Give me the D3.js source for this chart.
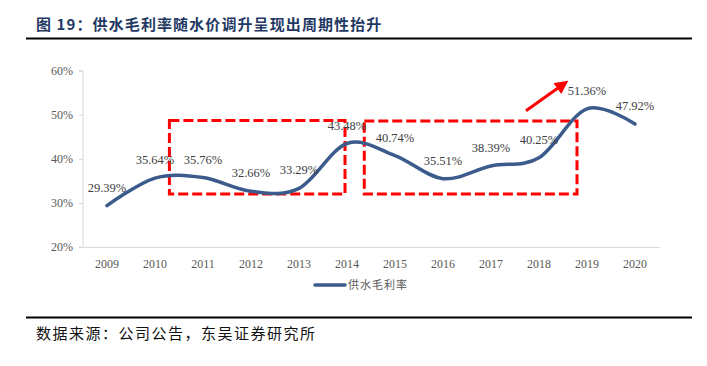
<!DOCTYPE html>
<html>
<head>
<meta charset="utf-8">
<script src="https://cdn.jsdelivr.net/npm/d3@7"></script>
<style>
  body { margin: 0; background: #fff; }
  svg { display: block; }
</style>
</head>
<body>
<script>
const years = ["2009","2010","2011","2012","2013","2014","2015","2016","2017","2018","2019","2020"];
const margin = [29.39, 35.64, 35.76, 32.66, 33.29, 43.48, 40.74, 35.51, 38.39, 40.25, 51.36, 47.92];
const yTicks = [20, 30, 40, 50, 60];
const seriesName = "供水毛利率";

const w = 707, h = 366;
const plotL = 83, plotR = 659, plotT = 70.7, plotB = 247;
const lineColor = "#3b5b8c";

const svg = d3.select("body").append("svg")
    .attr("width", w)
    .attr("height", h);

// title + rules
svg.append("text")
    .attr("x", 36).attr("y", 30)
    .attr("fill", "#1f3864")
    .style("font-family", "'Noto Sans CJK SC'")
    .style("font-weight", "bold")
    .style("font-size", "15px")
    .style("letter-spacing", "1.1px")
    .text("图 19：供水毛利率随水价调升呈现出周期性抬升");

svg.append("line")
    .attr("x1", 26).attr("x2", 692).attr("y1", 38.5).attr("y2", 38.5)
    .attr("stroke", "#000").attr("stroke-width", 2);

svg.append("line")
    .attr("x1", 26).attr("x2", 692).attr("y1", 317.5).attr("y2", 317.5)
    .attr("stroke", "#000").attr("stroke-width", 2);

svg.append("text")
    .attr("x", 36).attr("y", 339)
    .attr("fill", "#111")
    .style("font-family", "'Noto Sans CJK SC'")
    .style("font-size", "15px")
    .style("letter-spacing", "1.5px")
    .text("数据来源：公司公告，东吴证券研究所");

const xScale = d3.scaleBand()
    .domain(years)
    .range([plotL, plotR]);

const yScale = d3.scaleLinear()
    .domain([20, 60])
    .range([plotB, plotT]);

const xc = d => xScale(d) + xScale.bandwidth() / 2;

// y axis
const yAxis = d3.axisLeft(yScale)
    .tickValues(yTicks)
    .tickSize(4)
    .tickPadding(6)
    .tickFormat(d => d + "%");

const gy = svg.append("g")
    .attr("transform", "translate(" + plotL + ",0)")
    .call(yAxis);
gy.select(".domain").attr("stroke", "#d9d9d9").attr("d", "M-4," + plotT + "H0V" + plotB + "H-4");
gy.selectAll(".tick line").attr("stroke", "#d9d9d9");
gy.selectAll(".tick text")
    .attr("fill", "#595959")
    .style("font-family", "'Liberation Serif'")
    .style("font-size", "12px");

// x axis
const xAxis = d3.axisBottom(xScale).tickSize(0).tickPadding(12);
const gx = svg.append("g")
    .attr("transform", "translate(0," + plotB + ")")
    .call(xAxis);
gx.select(".domain").attr("stroke", "#d9d9d9");
gx.selectAll(".tick text")
    .attr("fill", "#595959")
    .style("font-family", "'Liberation Serif'")
    .style("font-size", "12px");

// red dashed boxes
const step = xScale.step();
const boxes = [
    { x0: xc("2010") + 0.3 * step, x1: xc("2014") - 2, y0: 48.7, y1: 32 },
    { x0: xc("2014") + 0.36 * step, x1: xc("2019") - 10, y0: 48.6, y1: 32 }
];
svg.selectAll(".box")
    .data(boxes)
    .enter()
    .append("rect")
    .attr("class", "box")
    .attr("x", d => d.x0)
    .attr("y", d => yScale(d.y0))
    .attr("width", d => d.x1 - d.x0)
    .attr("height", d => yScale(d.y1) - yScale(d.y0))
    .attr("fill", "none")
    .attr("stroke", "#ff0000")
    .attr("stroke-width", 3)
    .attr("stroke-dasharray", "10,4");

// line
const line = d3.line()
    .x((d, i) => xc(years[i]))
    .y(d => yScale(d))
    .curve(d3.curveCardinal.tension(0));

svg.append("path")
    .datum(margin)
    .attr("d", line)
    .attr("fill", "none")
    .attr("stroke", lineColor)
    .attr("stroke-width", 3.5)
    .attr("stroke-linecap", "round");

// data labels
svg.selectAll(".lbl")
    .data(margin)
    .enter()
    .append("text")
    .attr("class", "lbl")
    .attr("x", (d, i) => xc(years[i]))
    .attr("y", d => yScale(d) - 14)
    .attr("text-anchor", "middle")
    .attr("fill", "#404040")
    .style("font-family", "'Liberation Serif'")
    .style("font-size", "12.5px")
    .text(d => d.toFixed(2) + "%");

// arrow
svg.append("defs").append("marker")
    .attr("id", "head")
    .attr("viewBox", "0 0 10 10")
    .attr("refX", 7).attr("refY", 5)
    .attr("markerWidth", 4.5).attr("markerHeight", 4.5)
    .attr("orient", "auto")
    .append("path")
    .attr("d", "M0,0L10,5L0,10z")
    .attr("fill", "#ff0000");

svg.append("line")
    .attr("x1", xc("2018") - 13).attr("y1", yScale(50.9))
    .attr("x2", xc("2019") - 22).attr("y2", yScale(57.2))
    .attr("stroke", "#ff0000")
    .attr("stroke-width", 3)
    .attr("marker-end", "url(#head)");

// legend
const lg = svg.append("g").attr("transform", "translate(315,285)");
lg.append("line")
    .attr("x1", 0).attr("x2", 30)
    .attr("stroke", lineColor).attr("stroke-width", 3.5).attr("stroke-linecap", "round");
lg.append("text")
    .attr("x", 33).attr("y", 4)
    .attr("fill", "#595959")
    .style("font-family", "'Noto Sans CJK SC'")
    .style("font-size", "11px")
    .style("letter-spacing", "1px")
    .text(seriesName);
</script>
</body>
</html>
